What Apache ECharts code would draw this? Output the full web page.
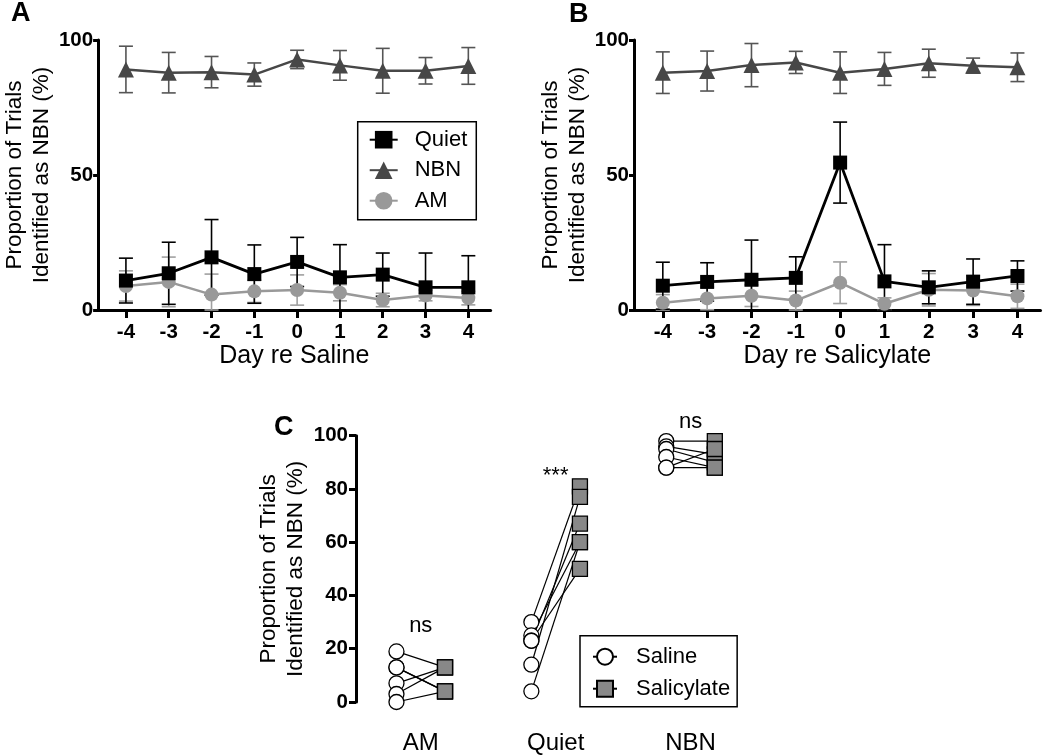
<!DOCTYPE html>
<html><head><meta charset="utf-8">
<script src="https://cdn.jsdelivr.net/npm/echarts@6/dist/echarts.min.js"></script>
<style>html,body{margin:0;padding:0;background:#fff}#c{width:1050px;height:755px}</style>
</head><body><div id="c"></div>
<script>
// ---------- data ----------
const days = [-4, -3, -2, -1, 0, 1, 2, 3, 4];

// Panel A (saline)
const aQuiet    = [10.9, 13.6, 19.5, 13.3, 17.8, 12.1, 13.1, 8.4, 8.4];
const aQuietErr = [8.3, 11.5, 14.0, 10.8, 9.1, 12.1, 8.0, 12.7, 11.7];
const aNBN      = [89.1, 87.9, 88.1, 87.2, 92.8, 90.6, 88.6, 88.6, 90.4];
const aNBNErr   = [8.6, 7.5, 5.8, 4.3, 3.4, 5.5, 8.3, 4.9, 6.8];
const aAM       = [8.9, 10.4, 5.7, 6.9, 7.4, 6.4, 3.7, 5.4, 4.4];
const aAMErr    = [5.6, 9.2, 7.6, 4.1, 5.6, 3.0, 2.5, 2.0, 2.5];

// Panel B (salicylate)
const bQuiet    = [9.0, 10.4, 11.2, 11.9, 54.6, 10.6, 8.4, 10.5, 12.6];
const bQuietErr = [8.7, 7.1, 14.7, 7.8, 15.0, 13.6, 6.1, 8.4, 5.6];
const bNBN      = [87.9, 88.5, 90.7, 91.7, 87.9, 89.3, 91.4, 90.5, 89.9];
const bNBNErr   = [7.7, 7.4, 8.0, 4.1, 7.7, 6.1, 5.2, 2.8, 5.3];
const bAM       = [2.7, 4.3, 5.3, 3.5, 10.1, 2.3, 7.5, 7.2, 5.1];
const bAMErr    = [3.0, 4.2, 4.0, 3.5, 7.7, 2.2, 6.0, 5.5, 4.5];

// Panel C (per-animal, paired)
const cCategories = ['AM', 'Quiet', 'NBN'];
const cSaline     = [[19, 13, 13, 7, 3, 0], [30, 25, 23, 23, 14, 4], [98, 96, 95, 92, 88, 88]];
const cSalicylate = [[13, 4, 4, 13, 13, 4], [81, 60, 67, 50, 77, 60], [98, 93, 90, 88, 88, 95]];
const cSigText    = ['ns', '***', 'ns'];

// ---------- styling ----------
const FONT = 'Liberation Sans, Arial, Helvetica, sans-serif';
const BLACK = '#000', NBNC = '#474747', AMC = '#999999';
const OFF = 0.18;

const chart = echarts.init(document.getElementById('c'));

function errSeries(xi, means, errs, color) {
  return {
    type: 'custom', xAxisIndex: xi, yAxisIndex: xi, silent: true, z: 3,
    data: days.map((d, i) => [d, means[i], errs[i]]),
    renderItem: (params, api) => {
      const x = api.value(0), m = api.value(1), e = api.value(2);
      const t = api.coord([x, m + e]);
      const b = api.coord([x, Math.max(0, m - e)]);
      const w = 7;
      const style = { stroke: color, lineWidth: 1.6 };
      return { type: 'group', children: [
        { type: 'line', shape: { x1: t[0], y1: t[1], x2: b[0], y2: b[1] }, style },
        { type: 'line', shape: { x1: t[0] - w, y1: t[1], x2: t[0] + w, y2: t[1] }, style },
        { type: 'line', shape: { x1: b[0] - w, y1: b[1], x2: b[0] + w, y2: b[1] }, style }
      ]};
    }
  };
}
function lineSeries(name, xi, vals, color, symbol, size, width, z) {
  return {
    name, type: 'line', xAxisIndex: xi, yAxisIndex: xi,
    data: days.map((d, i) => [d, vals[i]]),
    symbol, symbolSize: size, showAllSymbol: true, z: z,
    lineStyle: { color, width }, itemStyle: { color, borderWidth: 0 },
    emphasis: { disabled: true }
  };
}
function xAxisDay(gi, name) {
  return {
    gridIndex: gi, type: 'value', min: -4.65, max: 4.52,
    axisLine: { onZero: false, lineStyle: { color: BLACK, width: 3 } },
    axisTick: { customValues: days, length: 8, lineStyle: { color: BLACK, width: 3 } },
    axisLabel: { customValues: days, fontFamily: FONT, fontWeight: 'bold', fontSize: 20.5, color: BLACK, margin: 12 },
    splitLine: { show: false },
    name, nameLocation: 'middle', nameGap: 34,
    nameTextStyle: { fontFamily: FONT, fontSize: 25, color: BLACK }
  };
}
const yName = 'Proportion of Trials\nIdentified as NBN (%)';
function yAxisPct(gi, gap, interval, tickLen, margin) {
  return {
    gridIndex: gi, type: 'value', min: 0, max: 100, interval,
    axisLine: { show: true, onZero: false, lineStyle: { color: BLACK, width: 3 } },
    axisTick: { show: true, length: tickLen, lineStyle: { color: BLACK, width: 3 } },
    axisLabel: { fontFamily: FONT, fontWeight: 'bold', fontSize: 20.5, color: BLACK, margin },
    splitLine: { show: false },
    name: yName, nameLocation: 'middle', nameGap: gap,
    nameTextStyle: { fontFamily: FONT, fontSize: 22.5, lineHeight: 27, color: BLACK }
  };
}

// Panel C marker series (null-separated so no joining lines)
function pointsSeries(name, sign, values, symbol, fill) {
  const data = [];
  cCategories.forEach((c, g) => values[g].forEach(v => { data.push([g + 1 + sign * OFF, v]); data.push([g + 1 + sign * OFF, '-']); }));
  return {
    name, type: 'line', xAxisIndex: 2, yAxisIndex: 2, data, connectNulls: false,
    symbol, symbolSize: 15, showAllSymbol: true, z: 5,
    lineStyle: { color: BLACK, width: 1.2 },
    itemStyle: { color: fill, borderColor: BLACK, borderWidth: 1.3 },
    emphasis: { disabled: true }
  };
}
const pairData = [];
cCategories.forEach((c, g) => cSaline[g].forEach((v, i) => pairData.push([g + 1 - OFF, v, g + 1 + OFF, cSalicylate[g][i]])));

const option = {
  animation: false,
  backgroundColor: '#fff',
  grid: [
    { left: 77, top: 40, right: 559.4, bottom: 445 },
    { left: 634, top: 40, right: 9.5, bottom: 445 },
    { left: 356, top: 435.7, right: 292, bottom: 52.7 }
  ],
  xAxis: [
    xAxisDay(0, 'Day re Saline'),
    xAxisDay(1, 'Day re Salicylate'),
    {
      gridIndex: 2, type: 'value', min: 0.52, max: 3.5,
      axisLine: { show: false }, axisTick: { show: false }, splitLine: { show: false },
      axisLabel: { customValues: [1, 2, 3], formatter: v => cCategories[Math.round(v) - 1],
        fontFamily: FONT, fontSize: 24, color: BLACK, margin: 29 }
    }
  ],
  yAxis: [
    yAxisPct(0, 29, 50, 5, 5),
    yAxisPct(1, 30, 50, 5, 5),
    yAxisPct(2, 47, 20, 7, 8)
  ],
  legend: [
    {
      left: 357.7, top: 121.7, orient: 'vertical', data: ['Quiet', 'NBN', 'AM'],
      itemWidth: 28, itemHeight: 22, itemGap: 8.5, padding: [7, 9, 8, 11],
      borderColor: BLACK, borderWidth: 1.5, selectedMode: false,
      textStyle: { fontFamily: FONT, fontSize: 22, lineHeight: 22, color: BLACK, padding: [0, 0, 0, 12] }
    },
    {
      left: 580, top: 635.7, orient: 'vertical', data: ['Saline', 'Salicylate'],
      itemWidth: 24, itemHeight: 20, itemGap: 10, padding: [10, 7, 7, 12],
      borderColor: BLACK, borderWidth: 1.5, selectedMode: false,
      textStyle: { fontFamily: FONT, fontSize: 22, lineHeight: 22, color: BLACK, padding: [0, 0, 0, 14] }
    }
  ],
  graphic: [
    { type: 'text', left: 11, top: 0, style: { text: 'A', font: 'bold 27px ' + FONT, fill: BLACK } },
    { type: 'text', left: 569, top: 1, style: { text: 'B', font: 'bold 27px ' + FONT, fill: BLACK } },
    { type: 'text', left: 274, top: 414, style: { text: 'C', font: 'bold 27px ' + FONT, fill: BLACK } }
  ],
  series: [
    // A
    errSeries(0, aNBN, aNBNErr, '#555'),
    errSeries(0, aAM, aAMErr, '#a0a0a0'),
    errSeries(0, aQuiet, aQuietErr, BLACK),
    lineSeries('NBN', 0, aNBN, NBNC, 'triangle', 16, 2.5, 4),
    lineSeries('AM', 0, aAM, AMC, 'circle', 14, 2.5, 4),
    lineSeries('Quiet', 0, aQuiet, BLACK, 'rect', 14, 2.8, 5),
    // B
    errSeries(1, bNBN, bNBNErr, '#555'),
    errSeries(1, bAM, bAMErr, '#a0a0a0'),
    errSeries(1, bQuiet, bQuietErr, BLACK),
    lineSeries('NBN', 1, bNBN, NBNC, 'triangle', 16, 2.5, 4),
    lineSeries('AM', 1, bAM, AMC, 'circle', 14, 2.5, 4),
    lineSeries('Quiet', 1, bQuiet, BLACK, 'rect', 14, 2.8, 5),
    // C
    {
      type: 'custom', xAxisIndex: 2, yAxisIndex: 2, silent: true, z: 3, data: pairData,
      renderItem: (params, api) => {
        const p1 = api.coord([api.value(0), api.value(1)]);
        const p2 = api.coord([api.value(2), api.value(3)]);
        return { type: 'line', shape: { x1: p1[0], y1: p1[1], x2: p2[0], y2: p2[1] }, style: { stroke: BLACK, lineWidth: 1.2 } };
      }
    },
    pointsSeries('Saline', -1, cSaline, 'circle', '#fff'),
    pointsSeries('Salicylate', 1, cSalicylate, 'rect', '#888'),
    {
      type: 'scatter', xAxisIndex: 2, yAxisIndex: 2, clip: false, silent: true, z: 6,
      symbolSize: 1, itemStyle: { color: '#fff', opacity: 1 },
      data: cCategories.map((c, g) => [g + 1, Math.max(...cSaline[g], ...cSalicylate[g]) + [9.5, 4, 7][g], cSigText[g]]),
      label: { show: true, position: 'inside', formatter: p => p.value[2], fontFamily: FONT, fontSize: 22, color: '#000', opacity: 1, textBorderWidth: 0 }
    }
  ]
};
chart.setOption(option);
</script>
</body></html>
